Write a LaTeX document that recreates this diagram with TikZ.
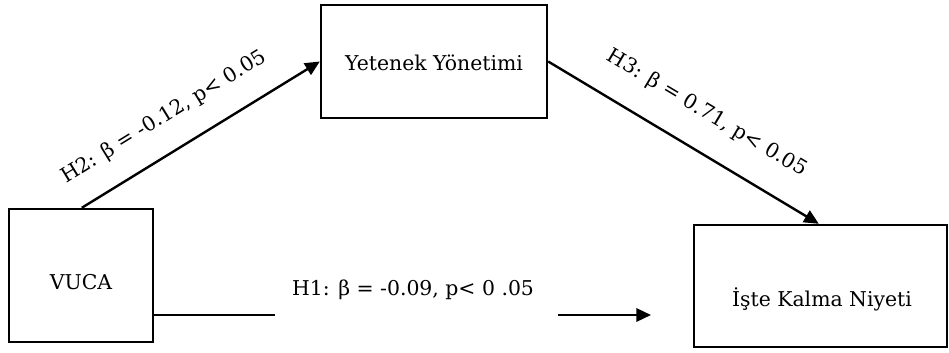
\documentclass[tikz,border=0pt]{standalone}
\usepackage{fontspec}
\setmainfont{DejaVu Serif}
\usetikzlibrary{arrows.meta,calc}
\begin{document}
\begin{tikzpicture}[x=0.75pt,y=-0.75pt,
  box/.style={draw,line width=1.8pt,inner sep=0pt,rectangle},
  txt/.style={font=\fontsize{15.3}{18}\selectfont,inner sep=0pt},
  link/.style={line width=1.8pt},
  arr/.style={link,-{Triangle[length=11pt,width=10pt]}}]
\useasboundingbox (0,0) rectangle (949,353);
% the three constructs
\node[box,minimum width=108pt,minimum height=99.75pt] (vuca) at (81,275.5) {};
\node[box,minimum width=169.5pt,minimum height=84.75pt] (yet) at (434,61.5) {};
\node[box,minimum width=189.75pt,minimum height=91.5pt] (kal) at (820.5,286) {};
\node[txt,anchor=base] (vucaT) at (81,289) {VUCA};
\node[txt,anchor=base] (yetT) at (434,70.5) {Yetenek Yönetimi};
\node[txt,anchor=base] (kalT) at (822,306) {İşte Kalma Niyeti};
% path end points
\coordinate (h2s) at ($(vuca.north west)+(74,0)$);
\coordinate (h3e) at ($(kal.north west)+(126,0)$);
\coordinate (h1a) at (275,315);
\coordinate (h1b) at (558,315);
\coordinate (h1c) at (651,315);
% paths
\draw[arr] (h2s) -- (yet.west);
\draw[arr] (yet.east) -- (h3e);
\draw[link] (vuca.east |- h1a) -- (h1a);
\draw[arr] (h1b) -- (h1c);
% coefficients
\node[txt,anchor=base] (h1) at (413,295) {H1: β = -0.09, p< 0 .05};
\node[txt,rotate=31.5] (h2) at (164,117) {H2: β = -0.12, p< 0.05};
\node[txt,rotate=-30.8] (h3) at (707,113) {H3: β = 0.71, p< 0.05};
\end{tikzpicture}
\end{document}
